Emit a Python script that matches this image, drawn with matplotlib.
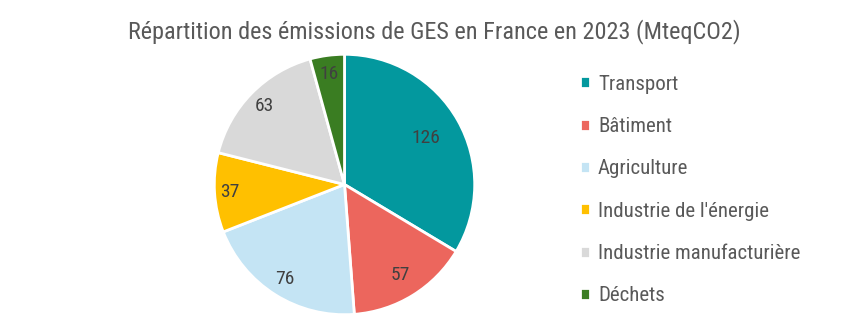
import matplotlib
matplotlib.use("Agg")
import numpy as np
import matplotlib.pyplot as plt
from matplotlib import font_manager

names = {f.name for f in font_manager.fontManager.ttflist}
family = next((n for n in ["Roboto Condensed", "Archivo Narrow", "PT Sans Narrow"]
               if n in names), "DejaVu Sans")
plt.rcParams["font.family"] = [family, "DejaVu Sans"]

categories = ["Transport", "Bâtiment", "Agriculture", "Industrie de l'énergie",
              "Industrie manufacturière", "Déchets"]
values = [126, 57, 76, 37, 63, 16]
colors = ["#03989E", "#EC665D", "#C4E4F4", "#FFC000", "#D9D9D9", "#3A7D22"]
title = "Répartition des émissions de GES en France en 2023 (MteqCO2)"

# radial position of each value label (fraction of the radius)
label_radius = [0.72, 0.82, 0.86, 0.88, 0.86, 0.86]

W, H = 868, 333
fig = plt.figure(figsize=(W / 100, H / 100), dpi=100)

ax = fig.add_axes([213 / W, 17 / H, 263 / W, 263 / H])
wedges, texts = ax.pie(
    values, colors=colors, startangle=90, counterclock=False,
    labels=[str(v) for v in values],
    wedgeprops=dict(edgecolor="white", linewidth=2),
    textprops=dict(fontsize=14, color="#404040"),
)
for w, t, d in zip(wedges, texts, label_radius):
    mid = np.deg2rad((w.theta1 + w.theta2) / 2)
    t.set_position((d * np.cos(mid), d * np.sin(mid)))
    t.set_horizontalalignment("center")
    t.set_verticalalignment("center")
ax.set_xlim(-1.01, 1.01)
ax.set_ylim(-1.01, 1.01)
ax.set_aspect("equal")

fig.text(434 / W, 1 - 32 / H, title, ha="center", va="center",
         fontsize=17.5, color="#595959")

fig.legend(wedges, categories, loc="center left",
           bbox_to_anchor=(561 / W, 1 - 190 / H), frameon=False,
           handlelength=0.5, handleheight=0.5, handletextpad=0.38,
           labelspacing=1.12, fontsize=15, labelcolor="#595959")

fig.savefig("out.png", dpi=100)
